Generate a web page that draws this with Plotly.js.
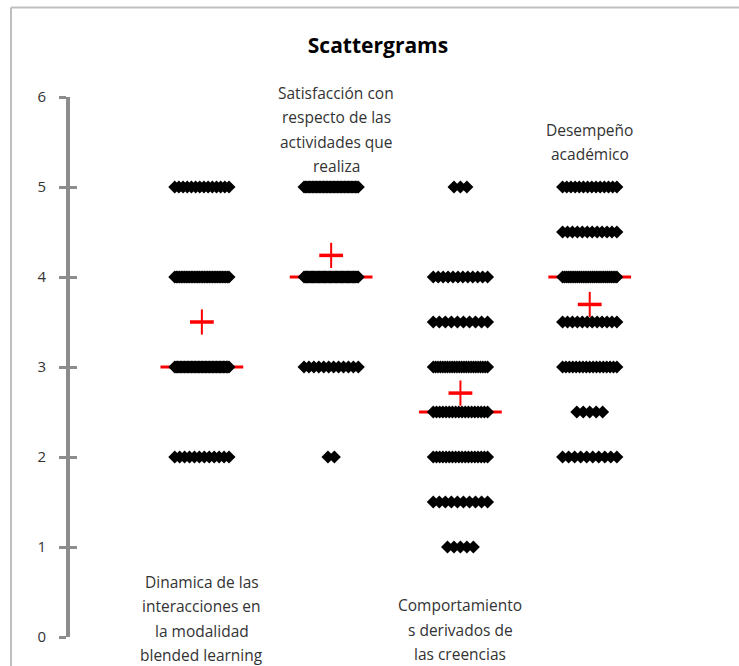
<!DOCTYPE html>
<html>
<head>
<meta charset="utf-8">
<script src="https://cdn.plot.ly/plotly-3.0.1.min.js"></script>
<style>html,body{margin:0;padding:0;background:#fff;}#chart{width:739px;height:666px;}</style>
</head>
<body>
<div id="chart"></div>
<script>
// ---- data ----
const categories = [
  ["Dinamica de las", "interacciones en", "la modalidad", "blended learning"],
  ["Satisfacción con", "respecto de las", "actividades que", "realiza"],
  ["Comportamiento", "s derivados de", "las creencias"],
  ["Desempeño", "académico"]
];
const g1Levels = [2, 3, 4, 5];
const g1Counts = [12, 40, 34, 14];
const g2Levels = [2, 3, 4, 5];
const g2Counts = [2, 12, 46, 40];
const g3Levels = [1, 1.5, 2, 2.5, 3, 3.5, 4, 5];
const g3Counts = [5, 10, 18, 18, 24, 10, 12, 3];
const g4Levels = [2, 2.5, 3, 3.5, 4, 4.5, 5];
const g4Counts = [10, 5, 17, 12, 30, 12, 14];
const yTickVals = [0, 1, 2, 3, 4, 5, 6];
const chartTitle = "Scattergrams";

// ---- build traces ----
const groups = [
  {levels: g1Levels, counts: g1Counts},
  {levels: g2Levels, counts: g2Counts},
  {levels: g3Levels, counts: g3Counts},
  {levels: g4Levels, counts: g4Counts}
];
const labelPos = [ // [x, y(center of text block)]
  [1.0, 0.205], [2.04, 5.64], [3.0, 0.078], [4.0, 5.5]
];

function stats(levels, counts) {
  let n = 0, s = 0;
  levels.forEach((v, i) => { n += counts[i]; s += v * counts[i]; });
  let cum = 0, med = null;
  for (let i = 0; i < levels.length; i++) {
    cum += counts[i];
    if (cum >= n / 2 && med === null) med = levels[i];
  }
  return {mean: s / n, median: med};
}

const font = "'Open Sans', Lato, 'Liberation Sans', sans-serif";
const traces = [];
const medX = [], medY = [], meanX = [], meanY = [];
groups.forEach((g, gi) => {
  const c = gi + 1;
  const st = stats(g.levels, g.counts);
  medX.push(c - 0.32, c + 0.32, null);
  medY.push(st.median, st.median, null);
  meanX.push(c); meanY.push(st.mean);
});
traces.push({x: medX, y: medY, mode: 'lines', line: {color: '#ff0000', width: 3}, hoverinfo: 'skip', showlegend: false});

groups.forEach((g, gi) => {
  const c = gi + 1;
  const xs = [], ys = [];
  g.levels.forEach((v, li) => {
    const n = g.counts[li];
    const step = n > 1 ? Math.min(0.05, 0.42 / (n - 1)) : 0;
    for (let k = 0; k < n; k++) {
      xs.push(c + (k - (n - 1) / 2) * step);
      ys.push(v);
    }
  });
  traces.push({x: xs, y: ys, mode: 'markers', type: 'scatter',
    marker: {symbol: 'diamond', size: 10, color: '#000000', line: {width: 0}},
    hoverinfo: 'skip', showlegend: false});
});

traces.push({x: meanX, y: meanY, mode: 'markers',
  marker: {symbol: 'line-ew', size: 17, line: {color: '#ff0000', width: 3.5}},
  hoverinfo: 'skip', showlegend: false});
traces.push({x: meanX, y: meanY, mode: 'markers',
  marker: {symbol: 'line-ns', size: 18, line: {color: '#ff0000', width: 2}},
  hoverinfo: 'skip', showlegend: false});
// dummy trace for the crossing tick axis
traces.push({x: [null], y: [null], yaxis: 'y2', showlegend: false, hoverinfo: 'skip'});

const annotations = [];
categories.forEach((lines, gi) => {
  const nL = lines.length;
  lines.forEach((t, li) => {
    annotations.push({
      x: labelPos[gi][0], y: labelPos[gi][1], xref: 'x', yref: 'y',
      text: t, showarrow: false, xanchor: 'center', yanchor: 'middle',
      yshift: ((nL - 1) / 2 - li) * 24.5,
      font: {family: font, size: 15.5, color: '#333333'}
    });
  });
});

const layout = {
  width: 739, height: 666,
  margin: {l: 70, r: 20, t: 97, b: 29},
  paper_bgcolor: '#ffffff', plot_bgcolor: '#ffffff',
  title: {text: '<b>' + chartTitle + '</b>', x: 0.5115, xref: 'container', y: 0.931, yref: 'container',
    xanchor: 'center', yanchor: 'middle', font: {family: font, size: 21, color: '#000000'}},
  xaxis: {range: [-0.02, 5.0], visible: false, showgrid: false, zeroline: false, fixedrange: true},
  yaxis: {range: [0, 6], tickvals: yTickVals, ticktext: yTickVals.map(String),
    showgrid: false, zeroline: false, showline: true, linecolor: '#8c8c8c', linewidth: 4,
    ticks: 'outside', ticklen: 7, tickwidth: 3, tickcolor: '#8c8c8c',
    ticklabelstandoff: 10,
    tickfont: {family: font, size: 15, color: '#333333'}, fixedrange: true},
  yaxis2: {range: [0, 6], overlaying: 'y', side: 'left', anchor: 'x', tickvals: yTickVals,
    showticklabels: false, showgrid: false, zeroline: false, showline: false,
    ticks: 'inside', ticklen: 7, tickwidth: 3, tickcolor: '#8c8c8c', fixedrange: true},
  shapes: [
    {type: 'line', xref: 'paper', yref: 'paper', x0: -0.0909, x1: 1.2, y0: 1.1657, y1: 1.1657,
      line: {color: '#bfbfbf', width: 2}},
    {type: 'line', xref: 'paper', yref: 'paper', x0: -0.0909, x1: -0.0909, y0: -0.2, y1: 1.1657,
      line: {color: '#bfbfbf', width: 2}}
  ],
  annotations: annotations,
  showlegend: false,
  hovermode: false
};

Plotly.newPlot('chart', traces, layout, {staticPlot: true, displayModeBar: false});
</script>
</body>
</html>
